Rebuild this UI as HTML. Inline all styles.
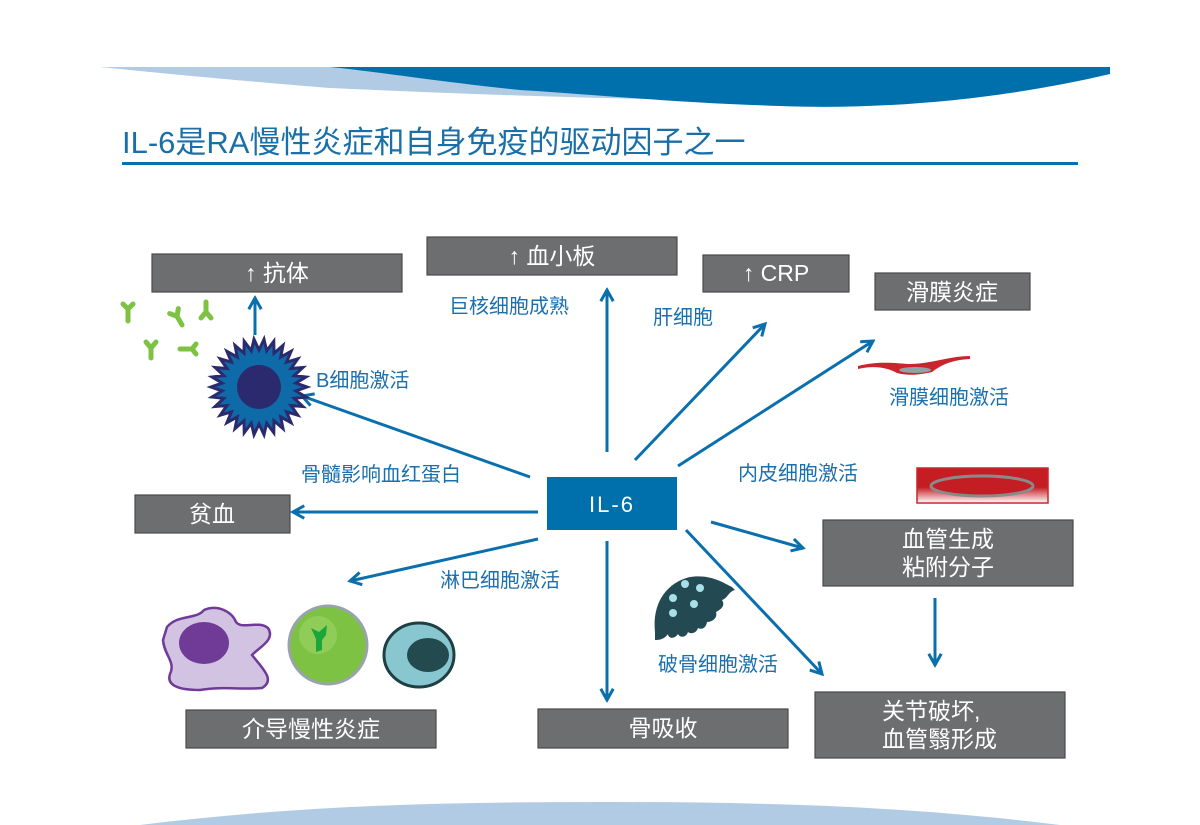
<!DOCTYPE html>
<html><head><meta charset="utf-8">
<style>
html,body{margin:0;padding:0;background:#fff;}
svg{display:block;}
text{font-family:"Liberation Sans","Noto Sans CJK SC",sans-serif;}
.bx{fill:#6d6e70;stroke:#4a4a4c;stroke-width:1.2;}
.bt{fill:#fff;font-size:23px;text-anchor:middle;}
.lb{fill:#1a6fad;font-size:20px;}
.ar{stroke:#0a6fad;stroke-width:3;fill:none;marker-end:url(#ah);}
</style></head>
<body>
<svg width="1200" height="825" viewBox="0 0 1200 825" xmlns="http://www.w3.org/2000/svg">
<defs>
<marker id="ah" viewBox="0 0 12 12" refX="10" refY="6" markerWidth="5" markerHeight="5" orient="auto" markerUnits="strokeWidth">
<polyline points="1,1 10,6 1,11" fill="none" stroke="#0a6fad" stroke-width="2.4" stroke-linejoin="miter"/>
</marker>
<linearGradient id="vg" x1="0" y1="0" x2="0" y2="1">
<stop offset="0" stop-color="#c41e24"/><stop offset="0.55" stop-color="#c41e24"/><stop offset="1" stop-color="#fff"/>
</linearGradient>
</defs>
<path d="M100,67 L700,67 L700,100 C560,98 420,92 330,88 C230,80 150,72 100,67 Z" fill="#b0cbe3"/>
<path d="M330,67 L1110,67 L1110,74 C1000,100 880,110 780,106 C680,103 600,95 520,90 C440,82 380,72 330,67 Z" fill="#0070ac"/>
<text x="122" y="153" font-size="31" fill="#1a6fa8">IL-6是RA慢性炎症和自身免疫的驱动因子之一</text>
<rect x="122" y="162" width="956" height="3" fill="#0a6fad"/>
<path d="M140,825 C300,805 450,802 600,802 C750,802 900,805 1060,825 Z" fill="#b0cbe3"/>

<rect class="bx" x="152" y="254" width="250" height="38"/><text class="bt" x="277" y="281">↑ 抗体</text>
<rect class="bx" x="427" y="237" width="250" height="38"/><text class="bt" x="552" y="264">↑ 血小板</text>
<rect class="bx" x="703" y="255" width="146" height="37"/><text class="bt" x="776" y="281">↑ CRP</text>
<rect class="bx" x="875" y="273" width="155" height="37"/><text class="bt" x="952" y="300">滑膜炎症</text>
<rect class="bx" x="135" y="495" width="155" height="38"/><text class="bt" x="212" y="522">贫血</text>
<rect class="bx" x="823" y="520" width="250" height="66"/><text class="bt" x="948" y="547">血管生成</text><text class="bt" x="948" y="575">粘附分子</text>
<rect class="bx" x="186" y="710" width="250" height="38"/><text class="bt" x="311" y="737">介导慢性炎症</text>
<rect class="bx" x="538" y="709" width="250" height="39"/><text class="bt" x="663" y="736">骨吸收</text>
<rect class="bx" x="815" y="692" width="250" height="66"/><text class="bt" x="882" y="719" style="text-anchor:start">关节破坏,</text><text class="bt" x="882" y="747" style="text-anchor:start">血管翳形成</text>
<rect x="547" y="477" width="130" height="53" fill="#0070ac"/><text x="612" y="512" fill="#fff" font-size="22" text-anchor="middle" letter-spacing="2">IL-6</text>

<line class="ar" x1="255" y1="335" x2="255" y2="298"/>
<line class="ar" x1="530" y1="477" x2="302" y2="396"/>
<line class="ar" x1="538" y1="512" x2="293" y2="512"/>
<line class="ar" x1="607" y1="452" x2="607" y2="290"/>
<line class="ar" x1="635" y1="460" x2="765" y2="324"/>
<line class="ar" x1="678" y1="466" x2="873" y2="341"/>
<line class="ar" x1="711" y1="522" x2="803" y2="548"/>
<line class="ar" x1="538" y1="539" x2="350" y2="581"/>
<line class="ar" x1="607" y1="541" x2="607" y2="700"/>
<line class="ar" x1="686" y1="530" x2="822" y2="674"/>
<line class="ar" x1="935" y1="598" x2="935" y2="665"/>

<text class="lb" x="449" y="313">巨核细胞成熟</text>
<text class="lb" x="653" y="324">肝细胞</text>
<text class="lb" x="316" y="387">B细胞激活</text>
<text class="lb" x="889" y="404">滑膜细胞激活</text>
<text class="lb" x="301" y="481">骨髓影响血红蛋白</text>
<text class="lb" x="738" y="480">内皮细胞激活</text>
<text class="lb" x="440" y="587">淋巴细胞激活</text>
<text class="lb" x="658" y="671">破骨细胞激活</text>

<polygon id="star" fill="#0f6aa8" stroke="#2b2a6e" stroke-width="3" stroke-linejoin="miter"/>
<circle cx="259" cy="387" r="22" fill="#2b2a6e"/>
<g fill="#7dc242" stroke="#7dc242" stroke-width="5" stroke-linecap="round">
<g transform="translate(128,315)"><path d="M0,-6 L0,6 M0,-6 L-5,-11 M0,-6 L5,-11" fill="none"/></g>
<g transform="translate(178,318) rotate(-30)"><path d="M0,-2 L0,8 M0,-2 L-5,-8 M0,-2 L5,-8" fill="none"/></g>
<g transform="translate(206,310)"><path d="M0,-8 L0,2 M0,2 L-5,8 M0,2 L5,8" fill="none"/></g>
<g transform="translate(151,350)"><path d="M0,-2 L0,8 M0,-2 L-5,-8 M0,-2 L5,-8" fill="none"/></g>
<g transform="translate(186,349) rotate(-90)"><path d="M0,-6 L0,6 M0,6 L-5,10 M0,6 L5,10" fill="none"/></g>
</g>
<path d="M858,366 C880,360 900,364 910,364 C930,364 950,356 970,356 L970,359 C950,360 940,366 932,372 C915,376 905,375 897,373 C885,366 870,366 858,369 Z" fill="#c8262c"/>
<ellipse cx="915" cy="370" rx="16" ry="3" fill="#8fa3a6"/>
<rect x="917" y="468" width="131" height="35" fill="url(#vg)" stroke="#c8262c" stroke-width="1.5"/>
<ellipse cx="982" cy="486" rx="51" ry="10" fill="#c41e24" stroke="#8a8a8a" stroke-width="3"/>
<path d="M167,627 C178,614 196,620 204,610 C218,604 232,612 236,622 C242,630 258,620 268,628 C276,640 258,648 252,655 C262,668 276,680 262,688 C240,690 222,686 200,690 C180,690 166,686 170,674 C176,662 164,655 163,640 Z" fill="#d2c3e2" stroke="#6f3b97" stroke-width="2.5"/>
<ellipse cx="204" cy="643" rx="25" ry="21" fill="#6f3b97"/>
<circle cx="328" cy="645" r="39" fill="#7dc242" stroke="#98a3ab" stroke-width="3"/>
<circle cx="318" cy="635" r="19" fill="#8fcd58"/>
<path d="M311,628 L319,632 L327,625 L326,635 L322,640 L322,650 L316,652 L316,639 Z" fill="#1aa63a"/>
<ellipse cx="419" cy="655" rx="35" ry="32" fill="#89c7d0" stroke="#1e3f44" stroke-width="3"/>
<ellipse cx="428" cy="655" rx="21" ry="17" fill="#224a4f"/>
<path d="M655,632 C652,605 665,583 690,577 C710,574 722,582 732,587 L735,590 C728,592 728,598 722,600 C726,606 720,610 716,612 C718,618 712,622 707,622 C706,628 702,630 698,628 C696,634 690,634 688,632 C686,638 680,638 678,634 C674,640 668,638 668,634 C664,640 658,640 655,640 Z" fill="#234a52"/>
<g fill="#a8e0e8"><circle cx="685" cy="584" r="4"/><circle cx="700" cy="588" r="4"/><circle cx="673" cy="598" r="4"/><circle cx="694" cy="604" r="4"/><circle cx="673" cy="613" r="4"/></g>
</svg>
<script>
(function(){var cx=259,cy=387,n=30,ro=48,ri=37,p=[];
for(var i=0;i<2*n;i++){var r=i%2?ri:ro,a=Math.PI*i/n;p.push((cx+r*Math.cos(a)).toFixed(1)+","+(cy+r*Math.sin(a)).toFixed(1));}
document.getElementById("star").setAttribute("points",p.join(" "));})();
</script>
</body></html>
